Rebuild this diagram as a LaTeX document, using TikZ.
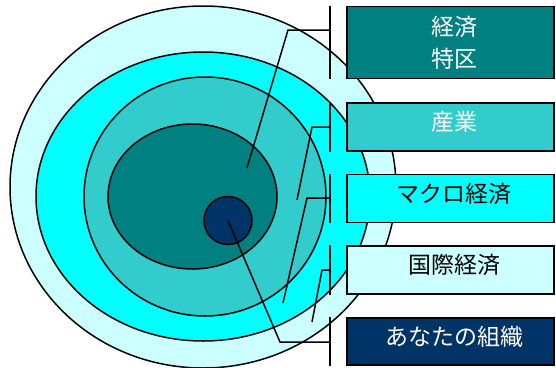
\documentclass[tikz,border=0pt]{standalone}
\usepackage{fontspec}
\newfontfamily\jp{Noto Sans CJK JP}
\definecolor{cA}{HTML}{008080}
\definecolor{cB}{HTML}{33CCCC}
\definecolor{cC}{HTML}{00FFFF}
\definecolor{cD}{HTML}{CCFFFF}
\definecolor{cE}{HTML}{003366}
\tikzset{
  ring/.style={draw=black, line width=1.5pt},
  box/.style={draw=black, line width=1.5pt, rectangle, minimum width=207pt, inner sep=0pt},
  lbl/.style={inner sep=0pt, font=\jp\fontsize{23}{32}\selectfont, align=center},
  conn/.style={draw=black, line width=1.5pt},
}
\begin{document}
\begin{tikzpicture}[x=1pt,y=-1pt]
\useasboundingbox (0,0) rectangle (556,367);
\begin{scope}
\clip (0,0) rectangle (556,367);
\filldraw[ring, fill=cD] (203,187) ellipse [x radius=193, y radius=181];
\filldraw[ring, fill=cC] (203,196.5) ellipse [x radius=167, y radius=144.5];
\filldraw[ring, fill=cB] (205,196.5) ellipse [x radius=121, y radius=119.5];
\filldraw[ring, fill=cA] (192.5,196.5) ellipse [x radius=84.5, y radius=72.5];
\node[circle, ring, fill=cE, minimum size=48pt, inner sep=0pt] (you) at (228,220.5) {};
% boxes
\node[box, fill=cA, minimum height=72pt] (b1) at (450.5,42.5) {};
\node[box, fill=cB, minimum height=48pt] (b2) at (450.5,127) {};
\node[box, fill=cC, minimum height=48pt] (b3) at (450.5,198.5) {};
\node[box, fill=cD, minimum height=48pt] (b4) at (450.5,270) {};
\node[box, fill=cE, minimum height=47pt] (b5) at (450.5,341.5) {};
\node[lbl, text=white] (t1) at ([xshift=3.5pt]b1.center) {経済\\特区};
\node[lbl, text=white] (t2) at ([xshift=3.5pt,yshift=5pt]b2.center) {産業};
\node[lbl, text=black] (t3) at ([xshift=3.5pt,yshift=5pt]b3.center) {マクロ経済};
\node[lbl, text=black] (t4) at ([xshift=3.5pt,yshift=5pt]b4.center) {国際経済};
\node[lbl, text=white] (t5) at ([xshift=3.5pt,yshift=5pt]b5.center) {あなたの組織};
% brackets
\foreach \b in {b1,b2,b3,b4,b5} {
  \draw[conn] (\b.north west -| 330,0) -- (\b.south west -| 330,0);
}
% connectors
\coordinate (j1) at (330,30);  \coordinate (k1) at (288,30);  \coordinate (e1) at (247,168);
\coordinate (j2) at (330,127); \coordinate (k2) at (312,127); \coordinate (e2) at (297,200);
\coordinate (j3) at (330,198); \coordinate (k3) at (307,198); \coordinate (e3) at (283,303);
\coordinate (j4) at (330,270); \coordinate (k4) at (322,270); \coordinate (e4) at (312,322);
\coordinate (j5) at (330,342); \coordinate (k5) at (280,342);
\draw[conn] (j1) -- (k1) -- (e1);
\draw[conn] (j2) -- (k2) -- (e2);
\draw[conn] (j3) -- (k3) -- (e3);
\draw[conn] (j4) -- (k4) -- (e4);
\draw[conn] (j5) -- (k5) -- (you.center);
\end{scope}
\end{tikzpicture}
\end{document}
